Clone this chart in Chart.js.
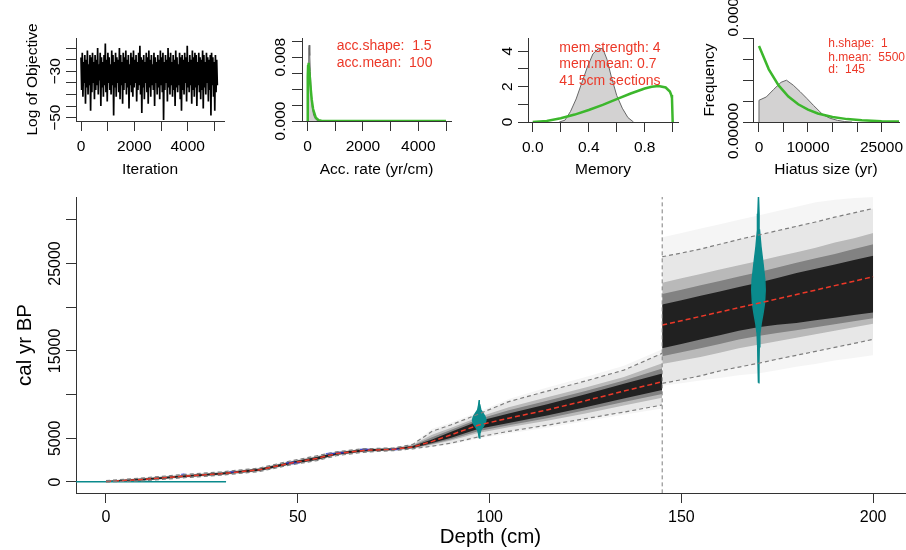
<!DOCTYPE html>
<html>
<head>
<meta charset="utf-8">
<script src="https://cdn.jsdelivr.net/npm/chart.js@4.4.1/dist/chart.umd.min.js"></script>
<style>
  html, body { margin: 0; padding: 0; background: #fff; }
  #wrap { position: relative; width: 906px; height: 550px; overflow: hidden; }
  #wrap canvas { position: absolute; left: 0; top: 0; }
</style>
</head>
<body>
<div id="wrap">
  <canvas id="main" width="906" height="550"></canvas>
  <canvas id="trace" width="906" height="550"></canvas>
  <canvas id="acc" width="906" height="550"></canvas>
  <canvas id="mem" width="906" height="550"></canvas>
  <canvas id="hiatus" width="906" height="550"></canvas>
</div>
<script>
// ---- MCMC trace (log of objective, one value per 24 iterations) ----
const traceStep = 24;
const traceLogObj = [
  -24,-38,-22,-41,-26,-35,-23,-44,-25,-37,-21,-40,-27,-36,-23,-47,-24,-39,-22,-35,
  -26,-42,-23,-38,-25,-36,-20,-40,-27,-34,-22,-45,-24,-37,-26,-41,-23,-36,-18,-39,
  -25,-43,-22,-35,-24,-38,-27,-40,-21,-36,-23,-49,-26,-37,-22,-41,-24,-35,-25,-39,
  -20,-42,-23,-36,-26,-44,-22,-38,-24,-35,-21,-40,-25,-37,-23,-46,-27,-36,-22,-39,
  -24,-41,-21,-37,-25,-35,-23,-43,-26,-38,-22,-36,-19,-40,-24,-48,-25,-37,-23,-42,
  -26,-35,-22,-39,-24,-44,-21,-37,-25,-41,-23,-36,-27,-38,-22,-45,-24,-35,-26,-40,
  -23,-37,-25,-42,-21,-36,-24,-39,-22,-51,-26,-38,-23,-35,-25,-43,-20,-37,-24,-40,
  -22,-36,-26,-41,-23,-38,-25,-45,-21,-37,-24,-39,-27,-36,-22,-42,-24,-47,-23,-38,
  -25,-40,-22,-35,-24,-43,-19,-37,-26,-39,-23,-36,-25,-44,-21,-38,-24,-41,-22,-37,
  -23,-45,-26,-36,-22,-39,-24,-42,-25,-38,-21,-46,-23,-37,-26,-40,-22,-35,-24,-43,
  -25,-38,-23,-49,-22,-36,-24,-41,-26,-47,-23,-39,-25,-36
];

// ---- accumulation rate (yr/cm) ----
const accX = [0, 15, 30, 45, 60, 80, 100, 130, 170, 220, 300, 400];
const accPost = [0, 0.0035, 0.0072, 0.0092, 0.0095, 0.0082, 0.0062, 0.0038, 0.0018, 0.0007, 0.0002, 0];
const accPriorX = [0, 5, 10, 20, 33, 50, 75, 100, 150, 200, 300, 400, 500, 700, 5000];
const accPrior = [0, 0.0043, 0.0056, 0.0069, 0.0073, 0.0069, 0.0058, 0.0046, 0.0027, 0.0015, 0.0004, 0.0001, 0.00003, 0, 0];

// ---- memory ----
const memX = [0.19, 0.23, 0.27, 0.31, 0.35, 0.39, 0.43, 0.47, 0.50, 0.53, 0.56, 0.60, 0.64, 0.68, 0.72];
const memPost = [0, 0.1, 0.6, 1.3, 2.2, 3.1, 3.85, 4.15, 4.15, 3.55, 2.6, 1.5, 0.78, 0.25, 0];
const memPriorX = [0, 0.1, 0.2, 0.3, 0.4, 0.5, 0.6, 0.7, 0.8, 0.85, 0.9, 0.95, 0.98, 0.99, 0.995, 1.0];
const memPrior = [0, 0.06, 0.21, 0.42, 0.68, 0.97, 1.29, 1.61, 1.89, 1.99, 2.03, 1.95, 1.72, 1.52, 1.34, 0];

// ---- hiatus size (yr) ----
const hiatusX = [0, 0, 1500, 3000, 4500, 5600, 7000, 8400, 9800, 11100, 12300, 13100, 14500, 16000, 17500, 19000];
const hiatusPost = [0, 0.000052, 0.00006, 0.000078, 0.000095, 0.0001, 0.000088, 0.0000725, 0.000056, 0.00004, 0.000026, 0.000017, 0.000009, 0.000004, 0.000001, 0];
const hiatusPriorX = [0, 2000, 4000, 6000, 8000, 10000, 12000, 15000, 18000, 21000, 25000, 28600];
const hiatusPrior = [0.000182, 0.000126, 0.0000876, 0.0000609, 0.0000423, 0.0000294, 0.0000204, 0.0000119, 0.0000069, 0.000004, 0.0000019, 0.000001];

// ---- age-depth model, above the hiatus ----
const depthA   = [0, 10, 20, 30, 40, 48, 55, 60, 67, 75, 80, 85, 90, 97, 105, 115, 125, 135, 145];
const meanA    = [50, 300, 650, 950, 1400, 2150, 2700, 3250, 3600, 3750, 4000, 4650, 5400, 6500, 7300, 8250, 9300, 10400, 11470];
const hiA      = [150, 480, 850, 1150, 1600, 2400, 3000, 3450, 3800, 3900, 4300, 5800, 6550, 7750, 9200, 10400, 11550, 12800, 14720];
const loA      = [0, 150, 480, 780, 1200, 1950, 2450, 3000, 3400, 3600, 3800, 4100, 4450, 5150, 5800, 6500, 7250, 8000, 8810];
const hazeHiA  = [200, 530, 900, 1200, 1650, 2450, 3050, 3500, 3850, 3950, 4400, 6100, 6800, 8000, 9500, 10800, 12000, 13300, 15200];
const hazeLoA  = [0, 120, 440, 740, 1150, 1900, 2400, 2950, 3350, 3560, 3760, 4000, 4300, 4950, 5550, 6200, 6950, 7700, 8400];
const midHiA   = [140, 450, 810, 1110, 1570, 2350, 2950, 3430, 3770, 3890, 4250, 5400, 6200, 7400, 8550, 9700, 10800, 12000, 13600];
const midLoA   = [0, 170, 510, 810, 1230, 1980, 2490, 3050, 3440, 3620, 3830, 4250, 4750, 5600, 6250, 7000, 7850, 8750, 9650];
const innerHiA = [130, 425, 780, 1080, 1545, 2315, 2900, 3405, 3740, 3870, 4185, 5120, 5970, 7170, 8200, 9300, 10420, 11620, 13000];
const innerLoA = [0, 185, 530, 830, 1255, 2000, 2520, 3085, 3465, 3635, 3855, 4350, 4900, 5820, 6500, 7300, 8200, 9150, 10080];
const coreHiA  = [120, 400, 750, 1050, 1520, 2280, 2850, 3380, 3710, 3850, 4120, 4850, 5750, 6950, 7850, 8900, 10050, 11250, 12420];
const coreLoA  = [0, 200, 550, 850, 1280, 2020, 2550, 3120, 3490, 3650, 3880, 4450, 5050, 6050, 6750, 7600, 8550, 9550, 10520];

// ---- age-depth model, below the hiatus ----
const depthB   = [145, 150, 155, 160, 165, 170, 175, 180, 185, 190, 195, 200];
const meanB    = [17960, 18450, 18950, 19450, 19950, 20440, 20950, 21450, 21960, 22470, 22980, 23490];
const hiB      = [25770, 26200, 26650, 27200, 27750, 28250, 28750, 29250, 29750, 30300, 30800, 31300];
const loB      = [11290, 11700, 12150, 12700, 13150, 13580, 14050, 14500, 14950, 15400, 15850, 16320];
const hazeHiB  = [28000, 28500, 29000, 29500, 30000, 30500, 31000, 31500, 32000, 32300, 32500, 32600];
const hazeLoB  = [11000, 11300, 11600, 11900, 12200, 12400, 12800, 13200, 13500, 13900, 14200, 14500];
const midHiB   = [22800, 23300, 23800, 24300, 24800, 25300, 25800, 26300, 26800, 27400, 27900, 28500];
const midLoB   = [13500, 13900, 14300, 14800, 15300, 15700, 16100, 16500, 16900, 17300, 17700, 18100];
const innerHiB = [21500, 22000, 22500, 23000, 23500, 24000, 24550, 25100, 25600, 26100, 26650, 27200];
const innerLoB = [14400, 14850, 15300, 15800, 16300, 16700, 17050, 17350, 17700, 18050, 18400, 18750];
const coreHiB  = [20300, 20800, 21300, 21800, 22300, 22800, 23350, 23900, 24400, 24900, 25400, 25900];
const coreLoB  = [15300, 15800, 16300, 16800, 17300, 17700, 18000, 18200, 18500, 18800, 19100, 19400];

const hiatusDepth = 145;

// calibrated dates (teal = cal BP, blue = 14C)
const date1Depth = 97.3;
const date1Age  = [5030, 5500, 5950, 6330, 6700, 7090, 7500, 7860, 8240, 8800, 9380];
const date1Half = [0, 0.15, 0.4, 1.0, 1.5, 1.75, 1.5, 1.0, 0.4, 0.15, 0];
const date2Depth = 170.1;
const date2Age  = [11360, 13580, 15480, 17010, 18150, 19300, 20440, 21960, 23110, 25020, 26920, 28830, 30700, 32640];
const date2Half = [0, 0.12, 0.2, 0.35, 0.7, 1.17, 1.56, 1.75, 1.65, 1.17, 0.65, 0.26, 0.15, 0];
const surfaceDepth = [-7.8, 31.3];
const surfaceAge = [35, 35];
const c14Depth = [20.2, 33, 48.7, 58.5, 61, 67.5, 75.4];
const c14Age   = [880, 1150, 2180, 3250, 3350, 3740, 3740];
const c14Half  = [0.6, 0.8, 1.8, 1.2, 1.2, 1.3, 1.4];
const c14Thick = [60, 60, 120, 90, 90, 90, 90];

// ---- styles ----
const FONT = '"Liberation Sans", Arial, Helvetica, sans-serif';
const AXIS = '#333';
const RED = 'rgb(236,56,40)';
const GREEN = '#3cb72c';
const GREYFILL = '#d3d2d2';
const TEAL = '#0a8a8c';

const pts = (xs, ys) => xs.map((x, i) => ({ x, y: ys[i] }));

function scale(min, max, ticks, horizontal) {
  return {
    type: 'linear', min, max,
    afterBuildTicks: s => { s.ticks = ticks.map(v => ({ value: v })); },
    afterFit: s => { if (horizontal) s.height = 20; else s.width = 20; },
    ticks: { display: false },
    grid: { display: true, drawOnChartArea: false, drawTicks: true, tickLength: 10, tickColor: AXIS, tickWidth: 1 },
    border: { display: true, color: AXIS, width: 1 }
  };
}

function rotText(ctx, s, x, y) {
  ctx.save();
  ctx.translate(x, y);
  ctx.rotate(-Math.PI / 2);
  ctx.fillText(s, 0, 0);
  ctx.restore();
}

function textPlugin(o) {
  return {
    id: 'rtext',
    afterDraw(chart) {
      const { ctx, chartArea: ca, scales: { x, y } } = chart;
      ctx.save();
      ctx.fillStyle = '#000';
      ctx.textBaseline = 'alphabetic';
      ctx.textAlign = 'center';
      ctx.font = o.tickFont;
      o.xLabels.forEach(([v, s]) => ctx.fillText(s, x.getPixelForValue(v), o.xLabelY));
      o.yLabels.forEach(([v, s]) => rotText(ctx, s, o.yLabelX, y.getPixelForValue(v)));
      ctx.font = o.titleFont;
      if (o.xTitle) ctx.fillText(o.xTitle, (ca.left + ca.right) / 2, o.xTitleY);
      if (o.yTitle) rotText(ctx, o.yTitle, o.yTitleX, (ca.top + ca.bottom) / 2);
      if (o.notes) {
        ctx.font = o.noteFont;
        ctx.fillStyle = RED;
        ctx.textAlign = 'left';
        o.notes.forEach(([s, px, py]) => ctx.fillText(s, px, py));
      }
      ctx.restore();
    }
  };
}

// area = [left, top, right, bottom] of the plot region in page pixels
function makeChart(id, area, xs, ys, datasets, text) {
  const [l, t, r, b] = area;
  return new Chart(document.getElementById(id), {
    type: 'line',
    data: { datasets },
    options: {
      responsive: false,
      animation: false,
      events: [],
      layout: { padding: { left: l - 20, top: t, right: 906 - r, bottom: 550 - b - 20 } },
      elements: { point: { radius: 0 }, line: { tension: 0 } },
      plugins: { legend: { display: false }, tooltip: { enabled: false } },
      scales: { x: xs, y: ys }
    },
    plugins: [textPlugin(text)]
  });
}

const topTick = '15.5px ' + FONT;

// ---- panel 1: trace ----
makeChart('trace', [76, 38, 224, 121],
  scale(-187.5, 5362, [0, 1000, 2000, 3000, 4000, 5000], true),
  scale(-51.42, -15.65, [-50, -45, -40, -35, -30, -25, -20], false),
  [{ data: traceLogObj.map((v, i) => ({ x: i * traceStep, y: v })), borderColor: '#000', borderWidth: 1.7,
     borderDash: [4000, 0], borderJoinStyle: 'miter', fill: false }],
  { tickFont: topTick, titleFont: topTick,
    xLabels: [[0, '0'], [2000, '2000'], [4000, '4000']], xLabelY: 151,
    yLabels: [[-30, '\u221230'], [-50, '\u221250']], yLabelX: 60,
    xTitle: 'Iteration', xTitleY: 173.5, yTitle: 'Log of Objective', yTitleX: 37 });

// ---- panel 2: accumulation rate ----
makeChart('acc', [302, 38, 451, 121],
  scale(-200, 5180, [0, 1000, 2000, 3000, 4000, 5000], true),
  scale(0, 0.0104, [0, 0.002, 0.004, 0.006, 0.008, 0.010], false),
  [
    { data: pts(accPriorX, accPrior), borderColor: GREEN, borderWidth: 2.5, fill: false, order: 0 },
    { data: pts(accX, accPost), borderColor: '#666', borderWidth: 1, backgroundColor: GREYFILL, fill: 'origin', order: 1 }
  ],
  { tickFont: topTick, titleFont: topTick, noteFont: '14px ' + FONT,
    xLabels: [[0, '0'], [2000, '2000'], [4000, '4000']], xLabelY: 151,
    yLabels: [[0, '0.000'], [0.008, '0.008']], yLabelX: 285,
    xTitle: 'Acc. rate (yr/cm)', xTitleY: 173.5,
    notes: [['acc.shape:  1.5', 336.7, 50], ['acc.mean:  100', 336.7, 66.7]] });

// ---- panel 3: memory ----
makeChart('mem', [528, 38, 678, 122],
  scale(-0.034, 1.038, [0, 0.2, 0.4, 0.6, 0.8, 1.0], true),
  scale(0, 4.746, [0, 1, 2, 3, 4], false),
  [
    { data: pts(memPriorX, memPrior), borderColor: GREEN, borderWidth: 2.5, fill: false, order: 0 },
    { data: pts(memX, memPost), borderColor: '#666', borderWidth: 1, backgroundColor: GREYFILL, fill: 'origin', order: 1 }
  ],
  { tickFont: topTick, titleFont: topTick, noteFont: '14px ' + FONT,
    xLabels: [[0, '0.0'], [0.4, '0.4'], [0.8, '0.8']], xLabelY: 151.5,
    yLabels: [[0, '0'], [2, '2'], [4, '4']], yLabelX: 512,
    xTitle: 'Memory', xTitleY: 173.5,
    notes: [['mem.strength: 4', 559.3, 51.7], ['mem.mean: 0.7', 559.3, 68.3], ['41 5cm sections', 559.3, 85]] });

// ---- panel 4: hiatus size ----
makeChart('hiatus', [753, 38, 899, 122],
  scale(-1224, 28571, [0, 5000, 10000, 15000, 20000, 25000], true),
  scale(0, 0.000201, [0, 0.00005, 0.0001, 0.00015, 0.0002], false),
  [
    { data: pts(hiatusPriorX, hiatusPrior), borderColor: GREEN, borderWidth: 2.5, fill: false, order: 0 },
    { data: pts(hiatusX, hiatusPost), borderColor: '#666', borderWidth: 1, backgroundColor: GREYFILL, fill: 'origin', order: 1 }
  ],
  { tickFont: topTick, titleFont: topTick, noteFont: '12px ' + FONT,
    xLabels: [[0, '0'], [10000, '10000'], [25000, '25000']], xLabelY: 151.5,
    yLabels: [[-0.0000215, '0.00000'], [0.0002715, '0.00020']], yLabelX: 738,
    xTitle: 'Hiatus size (yr)', xTitleY: 173.5, yTitle: 'Frequency', yTitleX: 713.5,
    notes: [['h.shape:  1', 828.3, 47.3], ['h.mean:  5500', 828.3, 60.7], ['d:  145', 828.3, 73.3]] });

// ---- main age-depth plot ----
function shade(xs, hi, lo, alpha) {
  return [
    { data: pts(xs, hi), fill: '+1', backgroundColor: `rgba(0,0,0,${alpha})`, borderWidth: 0, order: 10 },
    { data: pts(xs, lo), fill: false, borderWidth: 0, order: 10 }
  ];
}
function dashed(xs, ys, color, width, dash) {
  return { data: pts(xs, ys), fill: false, borderColor: color, borderWidth: width, borderDash: dash, order: 0 };
}
function violin(depth, ages, half) {
  const right = ages.map((a, i) => ({ x: depth + half[i], y: a }));
  const left = ages.map((a, i) => ({ x: depth - half[i], y: a })).reverse();
  return right.concat(left);
}
function blob(d, a, h, t) {
  return [{ x: d - h, y: a }, { x: d, y: a + t }, { x: d + h, y: a }, { x: d, y: a - t }, { x: d - h, y: a }];
}

const mainSets = [
  ...shade(depthA, hazeHiA, hazeLoA, 0.04),
  ...shade(depthA, hiA, loA, 0.06),
  ...shade(depthA, midHiA, midLoA, 0.2),
  ...shade(depthA, innerHiA, innerLoA, 0.3),
  ...shade(depthA, coreHiA, coreLoA, 0.75),
  ...shade(depthB, hazeHiB, hazeLoB, 0.04),
  ...shade(depthB, hiB, loB, 0.06),
  ...shade(depthB, midHiB, midLoB, 0.2),
  ...shade(depthB, innerHiB, innerLoB, 0.3),
  ...shade(depthB, coreHiB, coreLoB, 0.75),
  { data: violin(date1Depth, date1Age, date1Half), fill: 'shape', backgroundColor: TEAL, borderColor: TEAL, borderWidth: 1.5, order: 2 },
  { data: violin(date2Depth, date2Age, date2Half), fill: 'shape', backgroundColor: TEAL, borderColor: TEAL, borderWidth: 1.5, order: 2 },
  { data: pts(surfaceDepth, surfaceAge), fill: false, borderColor: TEAL, borderWidth: 1.5, order: 2 },
  ...c14Depth.map((d, i) => ({ data: blob(d, c14Age[i], c14Half[i], c14Thick[i]), fill: 'shape',
      backgroundColor: 'rgba(40,60,230,0.55)', borderColor: 'rgba(40,60,230,0.55)', borderWidth: 1, order: 2 })),
  dashed(depthA, hiA, 'rgb(125,125,125)', 1.2, [4, 3]),
  dashed(depthA, loA, 'rgb(125,125,125)', 1.2, [4, 3]),
  dashed(depthB, hiB, 'rgb(125,125,125)', 1.2, [4, 3]),
  dashed(depthB, loB, 'rgb(125,125,125)', 1.2, [4, 3]),
  dashed([hiatusDepth, hiatusDepth], [-1300, 32700], 'rgb(125,125,125)', 1, [4, 3]),
  dashed(depthA, meanA, RED, 1.5, [5, 3]),
  dashed(depthB, meanB, RED, 1.5, [5, 3])
];

makeChart('main', [76, 197, 905, 493],
  scale(-7.82, 208.3, [0, 50, 100, 150, 200], true),
  scale(-1259, 32609, [0, 5000, 10000, 15000, 20000, 25000, 30000], false),
  mainSets,
  { tickFont: '16px ' + FONT, titleFont: '20.5px ' + FONT,
    xLabels: [[0, '0'], [50, '50'], [100, '100'], [150, '150'], [200, '200']], xLabelY: 521.5,
    yLabels: [[0, '0'], [5000, '5000'], [15000, '15000'], [25000, '25000']], yLabelX: 60,
    xTitle: 'Depth (cm)', xTitleY: 543, yTitle: 'cal yr BP', yTitleX: 31 });
</script>
</body>
</html>
